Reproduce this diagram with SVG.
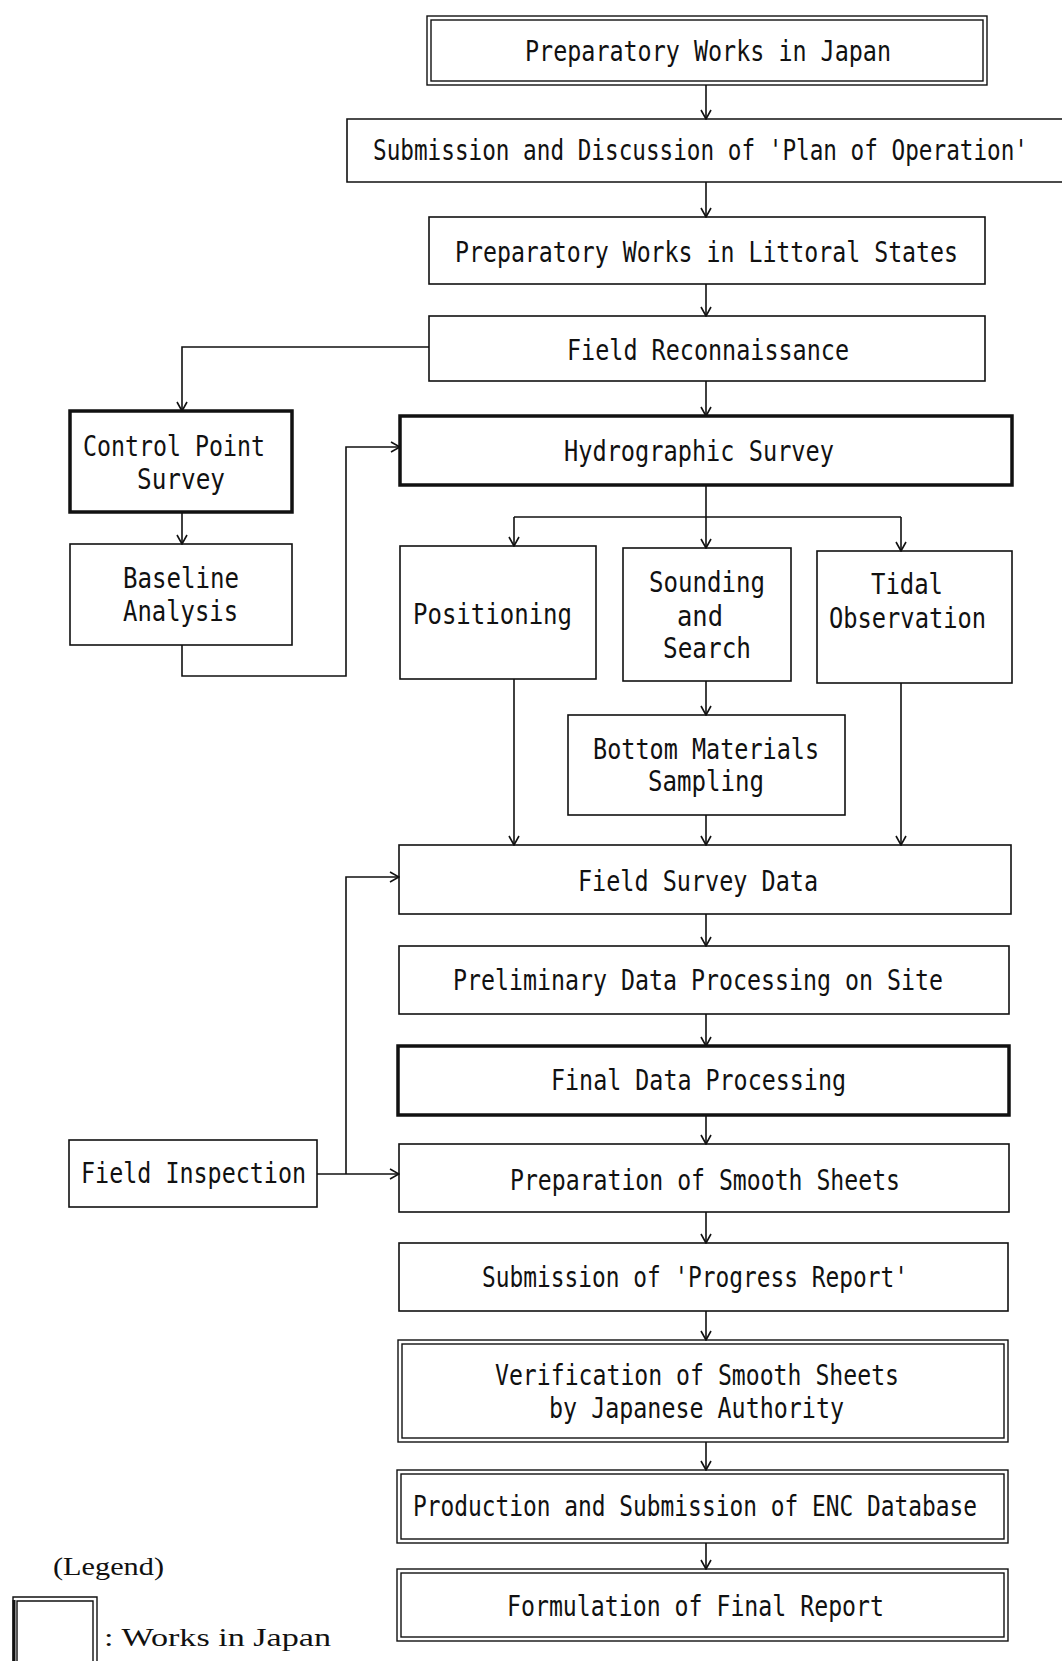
<svg xmlns="http://www.w3.org/2000/svg" width="1062" height="1661" viewBox="0 0 1062 1661">
<style>
.b{fill:none;stroke:#111;stroke-width:1.6}
.k{fill:none;stroke:#111;stroke-width:3.5}
.d{fill:none;stroke:#111;stroke-width:1.4}
.c{fill:none;stroke:#111;stroke-width:1.6}
text{font-family:"DejaVu Sans Mono","Liberation Mono",monospace;font-size:28px;fill:#111}
.s{font-family:"Liberation Serif","DejaVu Serif",serif;font-size:26px}
</style>
<defs>
<marker id="a" viewBox="-11 -6 12 12" refX="0" refY="0" markerWidth="12" markerHeight="12" markerUnits="userSpaceOnUse" orient="auto">
<path d="M-9,-5 L0,0 L-9,5" fill="none" stroke="#111" stroke-width="1.6"/>
</marker>
</defs>
<rect width="1062" height="1661" fill="#fff"/>
<g id="connectors">
<path class="c" d="M706,85 V119" marker-end="url(#a)"/>
<path class="c" d="M706,182 V217" marker-end="url(#a)"/>
<path class="c" d="M706,284 V316" marker-end="url(#a)"/>
<path class="c" d="M706,381 V416" marker-end="url(#a)"/>
<path class="c" d="M429,347 H182 V411" marker-end="url(#a)"/>
<path class="c" d="M182,512 V544" marker-end="url(#a)"/>
<path class="c" d="M182,645 V676 H346 V447 H400" marker-end="url(#a)"/>
<path class="c" d="M706,485 V548" marker-end="url(#a)"/>
<path class="c" d="M514,517 H901"/>
<path class="c" d="M514,517 V546" marker-end="url(#a)"/>
<path class="c" d="M901,517 V551" marker-end="url(#a)"/>
<path class="c" d="M706,681 V715" marker-end="url(#a)"/>
<path class="c" d="M514,679 V845" marker-end="url(#a)"/>
<path class="c" d="M706,815 V845" marker-end="url(#a)"/>
<path class="c" d="M901,683 V845" marker-end="url(#a)"/>
<path class="c" d="M706,914 V946" marker-end="url(#a)"/>
<path class="c" d="M706,1014 V1046" marker-end="url(#a)"/>
<path class="c" d="M706,1115 V1144" marker-end="url(#a)"/>
<path class="c" d="M706,1212 V1243" marker-end="url(#a)"/>
<path class="c" d="M706,1311 V1340" marker-end="url(#a)"/>
<path class="c" d="M706,1442 V1470" marker-end="url(#a)"/>
<path class="c" d="M706,1543 V1569" marker-end="url(#a)"/>
<path class="c" d="M317,1174 H399" marker-end="url(#a)"/>
<path class="c" d="M346,1174 V877 H399" marker-end="url(#a)"/>
</g>
<g id="n1"><rect class="d" x="427" y="16" width="560" height="69"/><rect class="d" x="431" y="20" width="552" height="61"/>
<text x="525" y="61" textLength="366" lengthAdjust="spacingAndGlyphs">Preparatory Works in Japan</text></g>
<g id="n2"><path class="b" d="M1062,119 H347 V182 H1062"/>
<text x="373" y="160" textLength="655" lengthAdjust="spacingAndGlyphs">Submission and Discussion of 'Plan of Operation'</text></g>
<g id="n3"><rect class="b" x="429" y="217" width="556" height="67"/>
<text x="455" y="262" textLength="503" lengthAdjust="spacingAndGlyphs">Preparatory Works in Littoral States</text></g>
<g id="n4"><rect class="b" x="429" y="316" width="556" height="65"/>
<text x="567" y="360" textLength="282" lengthAdjust="spacingAndGlyphs">Field Reconnaissance</text></g>
<g id="n5"><rect class="k" x="400" y="416" width="612" height="69"/>
<text x="564" y="461" textLength="270" lengthAdjust="spacingAndGlyphs">Hydrographic Survey</text></g>
<g id="n6"><rect class="k" x="70" y="411" width="222" height="101"/>
<text x="83" y="456" textLength="182" lengthAdjust="spacingAndGlyphs">Control Point</text>
<text x="137" y="489" textLength="88" lengthAdjust="spacingAndGlyphs">Survey</text></g>
<g id="n7"><rect class="b" x="70" y="544" width="222" height="101"/>
<text x="123" y="588" textLength="116" lengthAdjust="spacingAndGlyphs">Baseline</text>
<text x="123" y="621" textLength="115" lengthAdjust="spacingAndGlyphs">Analysis</text></g>
<g id="n8"><rect class="b" x="400" y="546" width="196" height="133"/>
<text x="413" y="624" textLength="159" lengthAdjust="spacingAndGlyphs">Positioning</text></g>
<g id="n9"><rect class="b" x="623" y="548" width="168" height="133"/>
<text x="649" y="592" textLength="116" lengthAdjust="spacingAndGlyphs">Sounding</text>
<text x="677" y="626" textLength="46" lengthAdjust="spacingAndGlyphs">and</text>
<text x="663" y="658" textLength="88" lengthAdjust="spacingAndGlyphs">Search</text></g>
<g id="n10"><rect class="b" x="817" y="551" width="195" height="132"/>
<text x="871" y="594" textLength="72" lengthAdjust="spacingAndGlyphs">Tidal</text>
<text x="829" y="628" textLength="157" lengthAdjust="spacingAndGlyphs">Observation</text></g>
<g id="n11"><rect class="b" x="568" y="715" width="277" height="100"/>
<text x="593" y="759" textLength="226" lengthAdjust="spacingAndGlyphs">Bottom Materials</text>
<text x="648" y="791" textLength="116" lengthAdjust="spacingAndGlyphs">Sampling</text></g>
<g id="n12"><rect class="b" x="399" y="845" width="612" height="69"/>
<text x="578" y="891" textLength="240" lengthAdjust="spacingAndGlyphs">Field Survey Data</text></g>
<g id="n13"><rect class="b" x="399" y="946" width="610" height="68"/>
<text x="453" y="990" textLength="490" lengthAdjust="spacingAndGlyphs">Preliminary Data Processing on Site</text></g>
<g id="n14"><rect class="k" x="398" y="1046" width="611" height="69"/>
<text x="551" y="1090" textLength="295" lengthAdjust="spacingAndGlyphs">Final Data Processing</text></g>
<g id="n15"><rect class="b" x="399" y="1144" width="610" height="68"/>
<text x="510" y="1190" textLength="390" lengthAdjust="spacingAndGlyphs">Preparation of Smooth Sheets</text></g>
<g id="n16"><rect class="b" x="399" y="1243" width="609" height="68"/>
<text x="482" y="1287" textLength="426" lengthAdjust="spacingAndGlyphs">Submission of 'Progress Report'</text></g>
<g id="n17"><rect class="d" x="398" y="1340" width="610" height="102"/><rect class="d" x="402" y="1344" width="602" height="94"/>
<text x="495" y="1385" textLength="404" lengthAdjust="spacingAndGlyphs">Verification of Smooth Sheets</text>
<text x="549" y="1418" textLength="295" lengthAdjust="spacingAndGlyphs">by Japanese Authority</text></g>
<g id="n18"><rect class="d" x="397" y="1470" width="611" height="73"/><rect class="d" x="401" y="1474" width="603" height="65"/>
<text x="413" y="1516" textLength="564" lengthAdjust="spacingAndGlyphs">Production and Submission of ENC Database</text></g>
<g id="n19"><rect class="d" x="397" y="1569" width="611" height="72"/><rect class="d" x="401" y="1573" width="603" height="64"/>
<text x="507" y="1616" textLength="377" lengthAdjust="spacingAndGlyphs">Formulation of Final Report</text></g>
<g id="n20"><rect class="b" x="69" y="1140" width="248" height="67"/>
<text x="81" y="1183" textLength="225" lengthAdjust="spacingAndGlyphs">Field Inspection</text></g>
<g id="legend">
<text class="s" x="53" y="1575" textLength="111" lengthAdjust="spacingAndGlyphs">(Legend)</text>
<path class="d" d="M13,1670 V1597 H97 V1670"/>
<path class="d" d="M17,1670 V1601 H93 V1670"/>
<path d="M14,1600 V1670" stroke="#111" stroke-width="3" fill="none"/>
<text class="s" x="104" y="1646" textLength="227" lengthAdjust="spacingAndGlyphs">: Works in Japan</text>
</g>
</svg>
